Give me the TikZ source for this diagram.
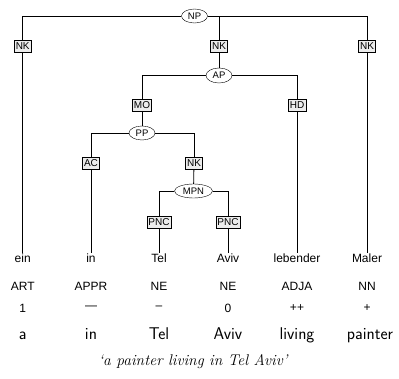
\documentclass[tikz,border=0pt]{standalone}
\usepackage{fontspec}
\newfontfamily\treefont{Liberation Sans}
\usetikzlibrary{shapes.geometric}
\tikzset{
  cat/.style={ellipse, draw, fill=white, inner sep=0.5pt, minimum width=26pt, minimum height=14pt, font=\treefont\fontsize{9.5}{10}\selectfont},
  lab/.style={rectangle, draw, fill=gray!15, inner xsep=1.5pt, inner ysep=0pt, minimum height=12.5pt, font=\treefont\fontsize{10}{11}\selectfont},
  word/.style={font=\treefont\fontsize{12}{13}\selectfont, text height=8.8pt, text depth=0pt, inner sep=1pt},
  tag/.style={font=\treefont\fontsize{12}{13}\selectfont, inner sep=0pt},
  gloss/.style={font=\sffamily\fontsize{17}{18}\selectfont, inner sep=0pt, anchor=base},
  edge/.style={draw, line width=0.8pt}
}
\begin{document}
\begin{tikzpicture}[x=1pt,y=-1pt]
\useasboundingbox (0,0) rectangle (399,379);
% nonterminals
\node[cat] (np) at (194.5,16) {NP};
\node[cat, minimum height=15pt] (ap) at (219,75.5) {AP};
\node[cat] (pp) at (142,133) {PP};
\node[cat, minimum width=38pt] (mpn) at (193.5,191) {MPN};
% edge labels
\node[lab] (nk1) at (22.7,46) {NK};
\node[lab] (nk2) at (219,46) {NK};
\node[lab] (nk3) at (367,46) {NK};
\node[lab] (mo) at (142,105) {MO};
\node[lab] (hd) at (297,105) {HD};
\node[lab] (ac) at (91,163) {AC};
\node[lab] (nk4) at (194,163) {NK};
\node[lab] (pnc1) at (159,222) {PNC};
\node[lab] (pnc2) at (228,222) {PNC};
% words
\node[word, anchor=north] (w1) at (22.7,253) {ein};
\node[word, anchor=north] (w2) at (91,253) {in};
\node[word, anchor=north] (w3) at (159,253) {Tel};
\node[word, anchor=north] (w4) at (228,253) {Aviv};
\node[word, anchor=north] (w5) at (297,253) {lebender};
\node[word, anchor=north] (w6) at (367,253) {Maler};
% tags
\node[tag] (t1) at (22.7,286) {ART};
\node[tag] (t2) at (91,286) {APPR};
\node[tag] (t3) at (159,286) {NE};
\node[tag] (t4) at (228,286) {NE};
\node[tag] (t5) at (297,286) {ADJA};
\node[tag] (t6) at (367,286) {NN};
% morph
\node[tag] (m1) at (22.7,308) {1};
\node[tag] (m2) at (91,308) {—};
\node[tag] (m3) at (159,308) {–};
\node[tag] (m4) at (228,308) {0};
\node[tag] (m5) at (297,308) {++};
\node[tag] (m6) at (367,308) {+};
% gloss
\node[gloss] (g1) at (22.7,340) {a};
\node[gloss] (g2) at (91,340) {in};
\node[gloss] (g3) at (159,340) {Tel};
\node[gloss] (g4) at (228,340) {Aviv};
\node[gloss] (g5) at (297,340) {living};
\node[gloss] (g6) at (370,340) {painter};
% caption
\node[font=\itshape\fontsize{15.5}{16}\selectfont, inner sep=0pt] (cap) at (193,362) {`a painter living in Tel Aviv'};
% edges
\path[edge] (np) -| (nk1);
\path[edge] (np) -| (nk2);
\path[edge] (np) -| (nk3);
\path[edge] (nk1) -- (w1);
\path[edge] (nk2) -- (ap);
\path[edge] (nk3) -- (w6);
\path[edge] (ap) -| (mo);
\path[edge] (ap) -| (hd);
\path[edge] (mo) -- (pp);
\path[edge] (hd) -- (w5);
\path[edge] (pp) -| (ac);
\path[edge] (pp) -| (nk4);
\path[edge] (ac) -- (w2);
\path[edge] (nk4) -- (mpn);
\path[edge] (mpn) -| (pnc1);
\path[edge] (mpn) -| (pnc2);
\path[edge] (pnc1) -- (w3);
\path[edge] (pnc2) -- (w4);
\end{tikzpicture}
\end{document}
